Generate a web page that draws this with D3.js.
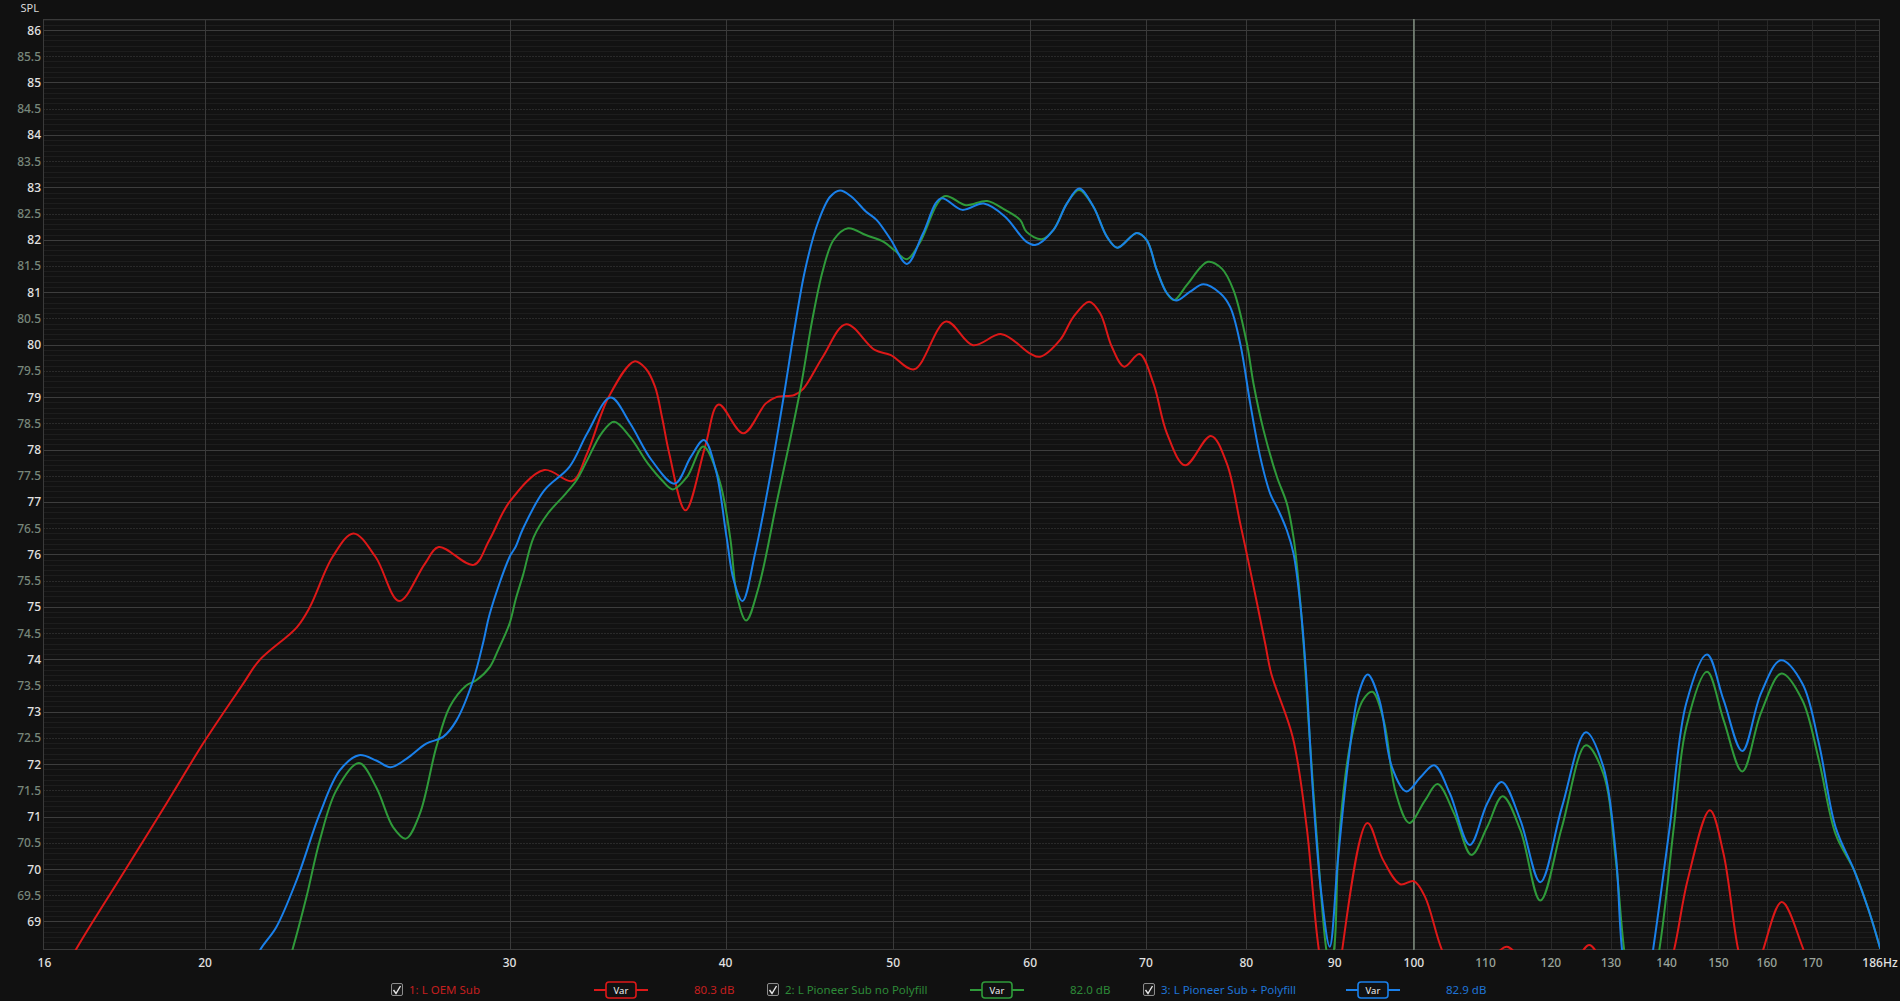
<!DOCTYPE html>
<html><head><meta charset="utf-8">
<script src="https://cdn.jsdelivr.net/npm/d3@7"></script>
<style>
html,body{margin:0;padding:0;background:#111111;overflow:hidden;}
svg{display:block;}
text{font-family:"Noto Sans","Open Sans",sans-serif;}
</style></head><body>
<svg id="chart" width="1900" height="1001"></svg>
<script>
// ---------- data ----------
const yTickValues = [69,69.5,70,70.5,71,71.5,72,72.5,73,73.5,74,74.5,75,75.5,76,76.5,77,77.5,78,78.5,79,79.5,80,80.5,81,81.5,82,82.5,83,83.5,84,84.5,85,85.5,86];
const xTickValues = [16,20,30,40,50,60,70,80,90,100,110,120,130,140,150,160,170,186];
const xTickLabels = ["16","20","30","40","50","60","70","80","90","100","110","120","130","140","150","160","170","186Hz"];
const xGridMajor = [20,30,40,50,60,70,80,90,100];
const xGridMinor = [110,120,130,140,150,160,170,180];
const cursorFreq = 100;

const seriesNames = ["1: L OEM Sub","2: L Pioneer Sub no Polyfill","3: L Pioneer Sub + Polyfill"];
const seriesLevels = ["80.3 dB","82.0 dB","82.9 dB"];

const redFreq = [16.5,16.84,18.0,19.0,20.0,21.04,21.5,22.6,23.0,23.7,24.37,25.1,25.9,26.8,27.3,28.6,29.2,30.0,31.42,32.61,33.26,34.23,35.42,35.95,36.41,36.76,37.11,37.92,38.92,39.63,40.95,42.2,42.8,43.83,44.36,45.53,46.96,48.78,49.84,51.41,53.65,55.6,57.76,60.0,60.8,62.44,63.56,64.9,65.86,66.89,68.0,69.4,70.7,71.98,73.75,76.32,77.96,79.36,80.42,82.04,82.7,85.1,86.7,88.1,90.0,90.9,94.0,96.0,98.2,100.0,101.5,103.8,106,108.5,111,113.2,115.5,118,121,124,126.3,128.5,132,136,139,141.4,144,148.3,151,154.0,156.5,159.2,163.2,168.0,172,180,186];
const redDb   = [67.9,68.46,70.0,71.25,72.45,73.53,73.98,74.61,75.0,75.95,76.4,75.95,75.11,75.82,76.14,75.8,76.27,77.0,77.61,77.4,77.92,79.0,79.68,79.55,79.2,78.6,77.92,76.84,78.05,78.86,78.31,78.88,79.0,79.04,79.16,79.77,80.39,79.9,79.8,79.53,80.44,79.99,80.2,79.83,79.77,80.09,80.53,80.82,80.6,79.96,79.58,79.82,79.26,78.31,77.7,78.26,77.73,76.59,75.7,74.3,73.73,72.52,70.8,68.48,66.8,68.46,70.88,70.17,69.71,69.77,69.47,68.46,67.9,67.9,68.3,68.52,68.2,67.6,67.6,68.2,68.55,68.2,67.2,66.9,67.6,68.46,69.8,71.12,70.3,68.46,67.6,68.46,69.37,68.46,67.5,66.5,66.0];

const greenFreq = [22.0,22.46,22.89,23.3,23.82,24.55,25.12,25.69,26.13,26.62,27.21,27.7,28.32,28.7,29.22,29.54,30.0,30.25,30.54,30.98,31.57,32.33,32.79,33.27,33.91,34.48,35.22,36.07,36.76,37.29,38.0,38.83,39.67,40.24,40.62,41.11,41.8,42.8,43.62,44.25,44.89,45.53,46.19,47.08,48.21,49.37,50.08,50.92,51.77,53.52,55.07,56.66,58.03,59.2,59.71,60.94,61.89,63.0,64.04,65.27,66.45,67.39,69.15,70.08,71.02,71.98,72.68,73.92,76.01,77.44,78.65,80.07,80.77,81.86,83.33,84.44,85.19,85.6,86.3,86.96,87.93,89.0,89.5,90.0,90.48,91.89,93.43,94.62,96.05,97.64,99.39,101.5,103.19,105.5,107.97,110.25,112.54,115.24,118.33,121.79,125.74,128.69,130.84,132.3,135.0,138.65,141.35,143.71,147.74,151.04,154.84,158.74,163.17,167.73,171.48,175.31,179.74,183.24,186.07];
const greenDb   = [67.5,68.44,69.46,70.54,71.5,72.02,71.56,70.8,70.58,71.05,72.32,73.09,73.5,73.6,73.85,74.17,74.68,75.15,75.6,76.33,76.78,77.16,77.41,77.8,78.31,78.53,78.24,77.73,77.41,77.24,77.48,78.06,77.41,76.33,75.19,74.74,75.38,76.97,78.24,79.26,80.47,81.42,82.0,82.22,82.09,81.96,81.8,81.63,81.93,82.83,82.66,82.74,82.57,82.38,82.15,82.01,82.19,82.69,82.95,82.63,82.06,81.85,82.13,81.99,81.42,80.98,80.85,81.14,81.58,81.45,81.04,80.02,79.26,78.37,77.48,76.97,76.33,75.75,74.4,72.71,70.48,68.46,68.1,68.6,70.48,72.39,73.22,73.38,72.84,71.44,70.88,71.31,71.62,71.06,70.27,70.8,71.39,70.74,69.4,70.8,72.36,71.82,70.17,68.46,66.5,68.46,70.8,72.71,73.76,72.84,71.86,72.98,73.73,73.22,72.07,70.67,69.97,69.21,68.48];

const blueFreq = [21.2,21.51,21.99,22.59,23.3,23.93,24.55,25.12,25.6,26.15,26.85,27.46,27.95,28.58,28.98,29.22,30.0,30.25,30.54,31.42,32.49,33.27,34.32,35.22,36.24,37.38,38.19,38.86,39.48,40.05,40.43,40.91,41.6,42.4,43.21,43.83,44.46,45.21,45.97,46.58,47.3,48.21,48.9,49.84,50.92,52.02,53.27,54.81,56.4,58.03,59.2,59.71,60.39,61.89,63.0,64.04,65.27,66.45,67.39,69.15,70.08,71.02,71.98,72.87,74.24,75.56,77.27,78.3,79.36,80.42,81.5,82.59,83.5,84.44,85.19,85.96,86.6,87.44,88.41,89.4,90.38,91.65,92.91,94.04,95.52,97.11,99.0,100.94,102.74,104.91,107.73,110.25,112.41,115.24,118.33,121.79,125.74,128.69,130.84,131.93,134.5,137.5,140.58,143.71,147.74,151.04,154.84,158.74,162.99,167.73,171.48,175.31,179.74,183.24,186.07];
const blueDb   = [67.9,68.44,68.89,69.78,71.05,71.88,72.17,72.07,71.94,72.1,72.39,72.52,72.83,73.6,74.35,74.87,75.95,76.15,76.49,77.22,77.67,78.31,78.99,78.5,77.8,77.35,77.86,78.18,77.61,76.33,75.51,75.11,76.02,77.41,79.0,80.28,81.42,82.31,82.82,82.94,82.82,82.54,82.38,82.0,81.54,82.12,82.79,82.57,82.69,82.44,82.09,81.96,81.9,82.19,82.69,82.98,82.63,82.06,81.85,82.13,81.99,81.42,80.98,80.84,81.01,81.15,80.98,80.72,80.02,78.88,77.86,77.16,76.84,76.46,76.02,75.06,73.8,71.44,69.53,68.52,70.17,72.07,73.35,73.71,73.22,71.95,71.48,71.76,71.98,71.44,70.46,71.25,71.66,70.93,69.75,71.18,72.61,71.95,70.29,68.46,66.5,68.46,70.8,73.16,74.09,73.22,72.25,73.35,73.98,73.54,72.39,70.8,69.97,69.21,68.48];

const seriesColors = ["#dd1818","#2f9a3a","#1a80ea"];
const legendTextColors = ["#c41f1f","#2d8a38","#1f74d6"];

// ---------- layout ----------
const W = 1900, H = 1001;
const plot = {left:43, right:1880, top:19, bottom:950};
const svg = d3.select("#chart");
svg.append("rect").attr("width",W).attr("height",H).attr("fill","#111111");

const x = d3.scaleLog().domain([16.12,186]).range([plot.left, plot.right]);
const y = d3.scaleLinear().domain([68.456,86.21]).range([plot.bottom, plot.top]);

const g = svg.append("g");
g.append("rect").attr("x",plot.left).attr("y",plot.top)
  .attr("width",plot.right-plot.left).attr("height",plot.bottom-plot.top).attr("fill","#121212");

// minor horizontal (0.1 dB)
const minorY = d3.range(685, 863).map(v => v/10).filter(v => Math.abs(v*2 - Math.round(v*2)) > 1e-6);
g.selectAll("line.hmin").data(minorY).enter().append("line")
  .attr("x1",plot.left).attr("x2",plot.right)
  .attr("y1",d=>Math.round(y(d))+0.5).attr("y2",d=>Math.round(y(d))+0.5)
  .attr("stroke","#1d1d1d").attr("stroke-width",1);
// half lines
g.selectAll("line.hhalf").data(yTickValues.filter(v=>v%1!==0)).enter().append("line")
  .attr("x1",plot.left).attr("x2",plot.right)
  .attr("y1",d=>Math.round(y(d))+0.5).attr("y2",d=>Math.round(y(d))+0.5)
  .attr("stroke","#2a2a2a").attr("stroke-width",1).attr("stroke-dasharray","2,1");
// integer lines
g.selectAll("line.hint").data(yTickValues.filter(v=>v%1===0)).enter().append("line")
  .attr("x1",plot.left).attr("x2",plot.right)
  .attr("y1",d=>Math.round(y(d))+0.5).attr("y2",d=>Math.round(y(d))+0.5)
  .attr("stroke","#3d3d3d").attr("stroke-width",1);
// vertical grid
g.selectAll("line.vmin").data(xGridMinor).enter().append("line")
  .attr("y1",plot.top).attr("y2",plot.bottom)
  .attr("x1",d=>Math.round(x(d))+0.5).attr("x2",d=>Math.round(x(d))+0.5)
  .attr("stroke","#282828").attr("stroke-width",1);
g.selectAll("line.vmaj").data(xGridMajor).enter().append("line")
  .attr("y1",plot.top).attr("y2",plot.bottom)
  .attr("x1",d=>Math.round(x(d))+0.5).attr("x2",d=>Math.round(x(d))+0.5)
  .attr("stroke","#3a3a3a").attr("stroke-width",1);

// frame
g.append("rect").attr("x",plot.left+0.5).attr("y",plot.top+0.5)
  .attr("width",plot.right-plot.left-1).attr("height",plot.bottom-plot.top-1)
  .attr("fill","none").attr("stroke","#3a3a3a").attr("stroke-width",1);

// cursor
g.append("line").attr("x1",x(cursorFreq)).attr("x2",x(cursorFreq))
  .attr("y1",plot.top).attr("y2",plot.bottom)
  .attr("stroke","#7b8a7b").attr("stroke-width",1.5);

// clip
svg.append("defs").append("clipPath").attr("id","clip").append("rect")
  .attr("x",plot.left).attr("y",plot.top).attr("width",plot.right-plot.left).attr("height",plot.bottom-plot.top);

const series = [
  {f:redFreq, v:redDb},
  {f:greenFreq, v:greenDb},
  {f:blueFreq, v:blueDb}
];
const line = d3.line().x(d=>x(d[0])).y(d=>y(d[1])).curve(d3.curveCatmullRom.alpha(0.5));
const lines = svg.append("g").attr("clip-path","url(#clip)");
series.forEach((s,i)=>{
  const pts = s.f.map((f,j)=>[f,s.v[j]]);
  lines.append("path").attr("d",line(pts)).attr("fill","none")
    .attr("stroke",seriesColors[i]).attr("stroke-width",2).attr("stroke-linejoin","round");
});

// y labels
svg.append("g").selectAll("text").data(yTickValues).enter().append("text")
  .attr("x",41).attr("y",d=>y(d)+4.5).attr("text-anchor","end")
  .attr("font-size",12).attr("font-weight",500)
  .attr("fill",d=>d%1===0?"#e2e2e2":"#77867a")
  .text(d=>d);
svg.append("text").attr("x",39).attr("y",12).attr("text-anchor","end")
  .attr("font-size",11).attr("fill","#d8d8d8").text("SPL");

// x labels
svg.append("g").selectAll("text").data(xTickValues).enter().append("text")
  .attr("x",(d,i)=> i===0 ? x(d)+7 : x(d)).attr("y",967).attr("text-anchor","middle")
  .attr("font-size",12).attr("font-weight",500)
  .attr("fill",d=> (d>100 && d<186) ? "#9aa39a" : "#e2e2e2")
  .text((d,i)=>xTickLabels[i]);

// legend
const legY = 990;
const leg = svg.append("g");
seriesNames.forEach((name,i)=>{
  const x0 = 391 + i*376;
  const gi = leg.append("g").attr("transform",`translate(${x0},0)`);
  gi.append("rect").attr("x",0.5).attr("y",legY-6.5).attr("width",11).attr("height",12).attr("rx",1.5)
    .attr("fill","#1a1a1a").attr("stroke","#8c8c8c").attr("stroke-width",1);
  gi.append("path").attr("d",`M2.5,${legY} L5,${legY+3.5} L9.5,${legY-4}`)
    .attr("fill","none").attr("stroke","#e8e8e8").attr("stroke-width",1.4);
  gi.append("text").attr("x",18).attr("y",legY+4).attr("font-size",11.5)
    .attr("fill",legendTextColors[i]).text(name);
  gi.append("line").attr("x1",203).attr("x2",257).attr("y1",legY).attr("y2",legY)
    .attr("stroke",seriesColors[i]).attr("stroke-width",2);
  gi.append("rect").attr("x",215).attr("y",legY-8).attr("width",30).attr("height",16).attr("rx",3)
    .attr("fill","#111111").attr("stroke",seriesColors[i]).attr("stroke-width",1.6);
  gi.append("text").attr("x",230).attr("y",legY+3.5).attr("text-anchor","middle")
    .attr("font-size",9.5).attr("fill","#f0f0f0").text("Var");
  gi.append("text").attr("x",303).attr("y",legY+4).attr("font-size",11.5)
    .attr("fill",legendTextColors[i]).text(seriesLevels[i]);
});
</script>
</body></html>
